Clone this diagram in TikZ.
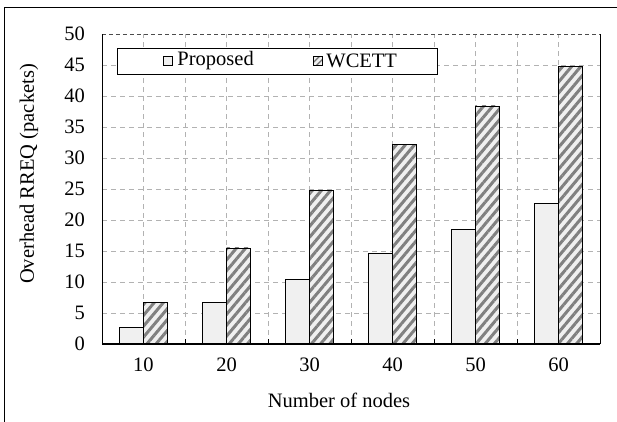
\documentclass[tikz,border=0pt]{standalone}
\usepackage{fontspec}
\setmainfont{Liberation Serif}
\usetikzlibrary{positioning,patterns.meta}

\tikzset{
    gridline/.style={black!30, dashed, dash pattern=on 5pt off 4pt, line width=0.7pt},
    propbar/.style={draw=black, line width=0.8pt, fill=black!6},
    wcettbar/.style={draw=black, line width=0.8pt, preaction={fill=black!6},
        pattern={Lines[angle=50,distance=7pt,line width=3pt]}, pattern color=black!50},
    keysq/.style={draw=black, line width=0.6pt, minimum size=9pt, inner sep=0pt},
    lbl/.style={font=\fontsize{20.5}{24}\selectfont, inner sep=0pt}
}

\begin{document}
\begin{tikzpicture}[x=83pt,y=6.2pt]
        \useasboundingbox (-1.2289,-12.419) rectangle (6.2048,55.484);

        % Outer frame
        \draw [line width=0.8pt] (-1.1747,-14) -- (-1.1747,54.35) -- (6.5,54.35);

        % Grid
        \foreach \v in {5,10,...,45}
            \draw [gridline] (0,\v) -- (6,\v);
        \foreach \u in {0.5,1,...,5.5}
            \draw [gridline] (\u,0) -- (\u,50);
        \draw [black!70, dashed, dash pattern=on 4pt off 3pt, line width=0.8pt] (0,50) -- (6,50);

        % Legend
        \node[draw, fill=white, line width=0.8pt, minimum width=320pt, minimum height=26pt] (legend) at (2.108,45.645) {};
        \node[keysq, fill=black!6] (keyprop) at (0.789,45.645) {};
        \node[lbl, right=5pt of keyprop] (labprop) {Proposed};
        \node[keysq, preaction={fill=black!6}, pattern={Lines[angle=45,distance=4pt,line width=1.5pt]}, pattern color=black!55] (keywcett) at (2.602,45.645) {};
        \node[lbl, right=3pt of keywcett] (labwcett) {WCETT};

        % Bars
        \foreach \i/\p/\w in {1/2.7/6.7, 2/6.7/15.5, 3/10.5/24.7, 4/14.6/32.2, 5/18.5/38.4, 6/22.6/44.7} {
            \draw [propbar] (\i-0.79,0) rectangle (\i-0.5,\p);
            \draw [wcettbar] (\i-0.5,0) rectangle (\i-0.21,\w);
            \node[lbl] (xlab\i) at (\i-0.5,-3.387) {\pgfmathparse{int(\i*10)}\pgfmathresult};
        }

        % Axes
        \draw [line width=0.8pt] (6,0) -- (6,50);
        \draw [line width=0.8pt] (0,0) -- (0,50);
        \foreach \u in {1,...,5}
            \draw [line width=0.8pt] (\u,0) -- (\u,0.8);
        \draw [line width=1.3pt] (0,0) -- (6,0);

        % Tick labels
        \foreach \v in {0,5,...,50}
            \node[lbl, anchor=east] (ylab\v) at (-0.205,\v) {\v};

        % Axis titles
        \node[lbl] (xtitle) at (2.855,-9.03) {Number of nodes};
        \node[lbl, rotate=90] (ytitle) at (-0.8795,27.42) {Overhead RREQ (packets)};
    \end{tikzpicture}
\end{document}
